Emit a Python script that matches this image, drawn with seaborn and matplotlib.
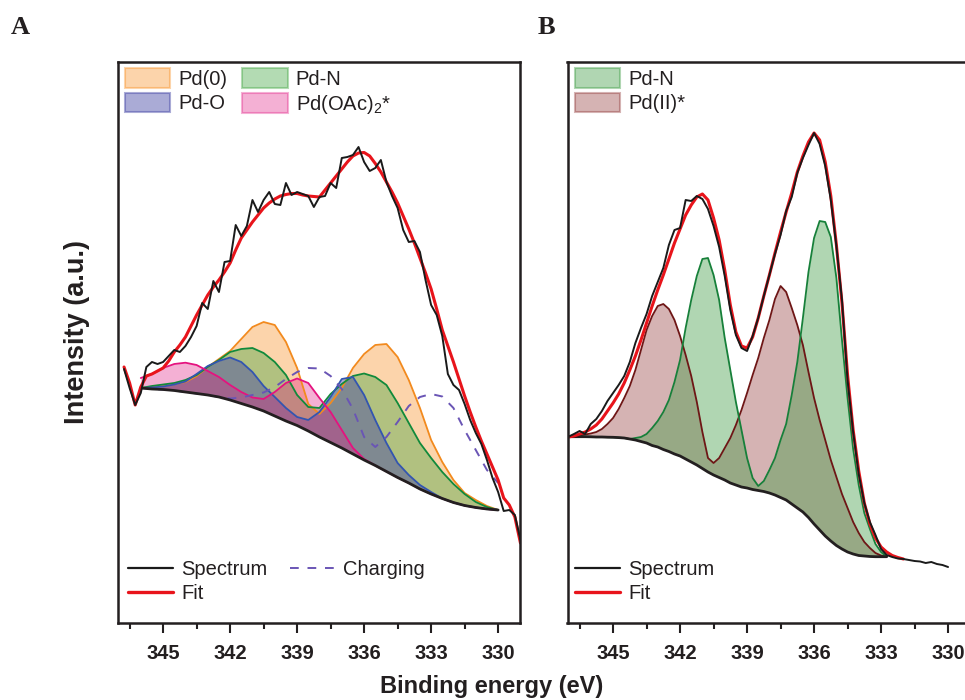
import matplotlib
matplotlib.use('Agg')
import matplotlib.pyplot as plt
from matplotlib.patches import Patch
from matplotlib.lines import Line2D
import seaborn as sns

# ---------------- data (intensity in arbitrary units) ----------------
# panel A: component grid (eV)
e_comp_a = [346.0, 345.5, 345.0, 344.5, 344.0, 343.5, 343.0, 342.5, 342.0, 341.5, 341.0,
            340.5, 340.0, 339.5, 339.0, 338.5, 338.0, 337.5, 337.0, 336.5, 336.0, 335.5,
            335.0, 334.5, 334.0, 333.5, 333.0, 332.5, 332.0, 331.5, 331.0, 330.5, 330.0]
bg_a = [235, 234, 233.5, 232.5, 231, 229.5, 228, 226, 223, 219.5, 216, 212, 207, 202, 197.5,
        192, 186, 180.5, 175, 169, 163, 157.5, 151.5, 145.5, 140, 134, 129, 124.5, 120.5,
        117.5, 115.5, 114, 113]
pd0_a = [235, 236, 237, 239, 241, 247, 256, 264, 272, 284, 296, 301, 298, 281, 255, 219, 209,
         220, 235, 255, 269, 278, 279, 266, 243, 215, 183, 161, 143, 130, 123, 117, 113]
pdn_a = [235, 237, 238.5, 240, 243, 248, 256, 263, 271, 274, 275, 270, 261, 248, 228, 216, 215,
         229, 239, 247, 249.5, 246, 238, 220, 200, 180, 165, 151, 139, 129, 121, 116, 113]
pdo_a = [235, 235.5, 236.5, 238.5, 241.5, 249, 257, 262, 265.5, 261, 251, 237, 226, 215, 206,
         203, 211, 226, 244, 246, 228, 203, 180, 160, 148, 138, 131, 124.5, 120.5, 117.5,
         115.5, 114, 113]
pdoac_a = [245, 249, 255, 259, 260.3, 258, 252, 246, 238, 231, 225.5, 224, 231, 240, 244.5,
           240, 225, 211, 193, 175, 164, 157.5, 151.5, 145.5, 140, 134, 129, 124.5, 120.5,
           117.5, 115.5, 114, 113]
charging_a = [235, 234, 233.5, 232.5, 231, 229.5, 228, 226, 224.5, 225.5, 228, 230.5, 236, 244,
              251, 255, 254.5, 247, 234, 214, 186, 176, 186, 201, 217, 226, 229, 226.5, 215,
              193, 173, 153, 140]

# panel A: spectrum grid (eV)
e_spec_a = [346.75, 346.5, 346.25, 346.0, 345.75, 345.5, 345.25, 345.0, 344.75, 344.5, 344.25,
            344.0, 343.75, 343.5, 343.25, 343.0, 342.75, 342.5, 342.25, 342.0, 341.75, 341.5,
            341.25, 341.0, 340.75, 340.5, 340.25, 340.0, 339.75, 339.5, 339.25, 339.0, 338.75,
            338.5, 338.25, 338.0, 337.75, 337.5, 337.25, 337.0, 336.75, 336.5, 336.25, 336.0,
            335.75, 335.5, 335.25, 335.0, 334.75, 334.5, 334.25, 334.0, 333.75, 333.5, 333.25,
            333.0, 332.75, 332.5, 332.25, 332.0, 331.75, 331.5, 331.25, 331.0, 330.75, 330.5,
            330.25, 330.0, 329.75, 329.5, 329.25, 329.0]
spec_a = [254, 235, 218, 230, 256, 261, 259, 261, 267, 273, 271, 277, 286, 297, 320, 314, 342,
          331, 361, 362, 398, 387, 397, 423, 411, 423, 431, 419, 418, 440, 428, 431, 429, 427,
          416, 426, 427, 440, 435, 465, 466, 468, 476, 461, 452, 455, 463, 441, 427, 415, 393,
          381, 382, 371, 343, 318, 308, 287, 249, 238, 233, 219, 203, 190, 179, 163, 145, 131,
          112, 113, 108, 83]
fit_a = [256, 240, 218, 236, 247, 249, 252, 255, 262, 271, 278, 286, 297, 308, 318, 328, 336,
         343, 351, 360, 373, 385, 393, 401, 408, 415, 420, 424, 427, 428.5, 429.5, 429.5, 428,
         427, 426.5, 426, 433, 440, 447, 454, 461, 467, 470, 470.5, 467, 459.5, 451, 441, 431,
         420, 407, 394, 380, 365, 350, 334, 314, 293, 277, 261, 244, 227, 211, 196, 182, 169,
         156, 143, 125, 118, 106, 80]

# panel B: grid (eV)
e_b = [347.0, 346.75, 346.5, 346.25, 346.0, 345.75, 345.5, 345.25, 345.0, 344.75, 344.5,
       344.25, 344.0, 343.75, 343.5, 343.25, 343.0, 342.75, 342.5, 342.25, 342.0, 341.75,
       341.5, 341.25, 341.0, 340.75, 340.5, 340.25, 340.0, 339.75, 339.5, 339.25, 339.0,
       338.75, 338.5, 338.25, 338.0, 337.75, 337.5, 337.25, 337.0, 336.75, 336.5, 336.25,
       336.0, 335.75, 335.5, 335.25, 335.0, 334.75, 334.5, 334.25, 334.0, 333.75, 333.5,
       333.25, 333.0, 332.75, 332.5, 332.25, 332.0, 331.75, 331.5, 331.25, 331.0, 330.75,
       330.5, 330.25, 330.0]
spec_b = [186.3, 189, 192, 189, 199, 204, 212, 222, 230, 238, 247, 261, 280, 295, 309, 327, 341,
          355, 378, 393, 395, 423, 422, 427, 424, 414, 397, 376, 347, 313, 288, 275, 272, 287,
          305, 327, 348, 369, 388, 412, 426, 450, 465, 478, 490, 479, 457, 423, 377, 323, 243,
          191, 149, 120, 101, 88, 74, 68, 66, 64.5, 64, 63, 62, 61.5, 60, 61, 59, 58, 56]
fit_b = [186, 187, 189, 191, 194, 198, 204, 212, 220, 229, 240, 253, 267, 283, 300, 317, 333,
         348, 364, 380, 394, 408, 418, 426, 429, 423, 405, 383, 353, 318, 291, 277, 275, 286,
         305, 327, 348, 370, 391, 411, 430, 451, 467, 481, 490, 483, 461, 427, 378, 320, 248,
         193, 152, 120, 99, 85, 76, 71, 67.5, 65.5, 64]
bg_b = [186.3, 186.3, 186.3, 186.3, 186.2, 186, 186, 185.8, 185.7, 185.4, 185, 184, 183, 181.5,
        180, 177.5, 176, 173.5, 171.5, 169, 167, 164, 161, 158, 154.5, 151, 148, 145.5, 143,
        140, 138, 136, 135, 133.5, 132.5, 131.5, 130, 128, 125.5, 123, 119, 115, 111, 105.5,
        99, 93, 87, 82, 77.5, 74, 71, 69, 67.5, 67, 66.5, 66.3, 66.3, 66.3]
pdii_b = [186.5, 187, 187.5, 188.5, 189.5, 191, 194, 199, 205, 214, 225, 237, 253, 273, 293,
          307, 317, 319, 314, 303, 287, 268, 247, 221, 191, 165, 160, 165, 175, 185, 198, 213,
          230, 248, 265, 285, 303, 324, 337, 331, 315, 298, 278, 251, 225, 203, 183, 163, 146,
          129, 115, 101, 90, 81, 75, 70, 67.5, 66.3]
pdn_b = [186.3, 186.3, 186.3, 186.3, 186.2, 186, 186, 185.8, 185.7, 185.4, 185, 184, 185, 186,
         189, 195, 202, 211, 223, 241, 263, 295, 323, 347, 364, 365, 348, 323, 285, 253, 221,
         193, 165, 145, 137, 142, 153, 165, 183, 199, 228, 261, 305, 351, 385, 402, 401, 386,
         345, 283, 225, 174, 138, 110, 94, 79, 71, 66.3]

tick_values = [345, 342, 339, 336, 333, 330]
minor_values = [346.5, 343.5, 340.5, 337.5, 334.5, 331.5]
tick_labels = ['345', '342', '339', '336', '333', '330']

# ---------------- style ----------------
sns.set_theme(style='white')
plt.rcParams['font.family'] = ['Liberation Sans', 'DejaVu Sans']
plt.rcParams['mathtext.default'] = 'regular'

W, H = 965, 700
fig = plt.figure(figsize=(W / 100, H / 100), dpi=100)
axA = fig.add_axes([118 / W, 1 - 623 / H, 402 / W, 561 / H])
axB = fig.add_axes([567.5 / W, 1 - 623 / H, 402 / W, 561 / H])


def line(ax, x, y, **kw):
    sns.lineplot(x=x, y=y, ax=ax, estimator=None, sort=False, legend=False, **kw)


# ---------------- panel A ----------------
comps_a = [
    ('Pd(0)', pd0_a, '#f88510', '#f28a1e', 0.35),
    ('Pd-N', pdn_a, '#41a541', '#118a3b', 0.40),
    ('Pd-O', pdo_a, '#4446a6', '#3355b0', 0.45),
    (r'Pd(OAc)$_2$*', pdoac_a, '#e21d84', '#e5127f', 0.35),
]
for name, vals, fc, ec, a in comps_a:
    axA.fill_between(e_comp_a, bg_a, vals, color=fc, alpha=a, lw=0)
for name, vals, fc, ec, a in comps_a:
    line(axA, e_comp_a, vals, color=ec, lw=1.3)
line(axA, e_comp_a, charging_a, color='#6a55b5', lw=1.4, linestyle=(0, (4.5, 4.5)))
line(axA, e_comp_a, bg_a, color='#231f20', lw=2.0)
line(axA, e_spec_a, fit_a, color='#e8141b', lw=2.2)
line(axA, e_spec_a, spec_a, color='#1a1a1a', lw=1.4)

# ---------------- panel B ----------------
e_bg_b = e_b[:len(bg_b)]
axB.fill_between(e_bg_b, bg_b, pdii_b, color='#872626', alpha=0.35, lw=0)
axB.fill_between(e_bg_b, bg_b, pdn_b, color='#3a9a40', alpha=0.40, lw=0)
line(axB, e_bg_b, pdii_b, color='#6e1616', lw=1.3)
line(axB, e_bg_b, pdn_b, color='#17803a', lw=1.3)
line(axB, e_bg_b, bg_b, color='#231f20', lw=2.0)
line(axB, e_b[:len(fit_b)], fit_b, color='#e8141b', lw=2.2)
line(axB, e_b, spec_b, color='#1a1a1a', lw=1.4)

# ---------------- axes styling ----------------
for ax, lo in ((axA, 347.02), (axB, 347.04)):
    ax.set_xlim(lo, lo - 18.0)
    ax.set_ylim(0, 561)
    ax.set_yticks([])
    ax.set_xticks(tick_values)
    ax.set_xticks(minor_values, minor=True)
    ax.set_xticklabels(tick_labels, fontweight='bold', fontsize=14.5)
    ax.tick_params(axis='x', which='major', direction='out', length=7, width=1.5,
                   color='#231f20', pad=8, labelcolor='#231f20', bottom=True)
    ax.tick_params(axis='x', which='minor', direction='out', length=4, width=1.5,
                   color='#231f20', bottom=True)
    ax.set_xlabel('')
    ax.set_ylabel('')
    for sp in ax.spines.values():
        sp.set_linewidth(1.8)
        sp.set_color('#231f20')
        sp.set_visible(True)

leg_kw = dict(frameon=False, fontsize=14.5, borderpad=0, borderaxespad=0,
              handletextpad=0.4, labelcolor='#231f20')

# panel A legends
pa = [Patch(facecolor=fc, edgecolor=fc, alpha=a, lw=1.5, label=n) for n, v, fc, ec, a in comps_a]
top_a = axA.legend(handles=[pa[0], pa[2], pa[1], pa[3]], ncol=2, loc='upper left',
                   bbox_to_anchor=(0.017, 0.989), handlelength=2.25, handleheight=1.1,
                   labelspacing=0.2, columnspacing=0.75, **leg_kw)
axA.add_artist(top_a)
la = [Line2D([], [], color='#1a1a1a', lw=1.6, label='Spectrum'),
      Line2D([], [], color='#e8141b', lw=2.4, label='Fit'),
      Line2D([], [], color='#6a55b5', lw=1.4, linestyle=(0, (4.5, 4.5)), label='Charging')]
axA.legend(handles=la, ncol=2, loc='upper left', bbox_to_anchor=(0.025, 0.113),
           handlelength=2.25, labelspacing=0.25, columnspacing=1.1, **leg_kw)

# panel B legends
pb = [Patch(facecolor='#3a9a40', edgecolor='#3a9a40', alpha=0.4, lw=1.5, label='Pd-N'),
      Patch(facecolor='#872626', edgecolor='#872626', alpha=0.35, lw=1.5, label='Pd(II)*')]
top_b = axB.legend(handles=pb, loc='upper left', bbox_to_anchor=(0.019, 0.989),
                   handlelength=2.25, handleheight=1.1, labelspacing=0.2, **leg_kw)
axB.add_artist(top_b)
axB.legend(handles=la[:2], loc='upper left', bbox_to_anchor=(0.019, 0.113),
           handlelength=2.25, labelspacing=0.25, **leg_kw)

# ---------------- figure labels ----------------
fig.text(77 / W, 1 - 332 / H, 'Intensity (a.u.)', rotation=90, ha='center', va='center',
         fontsize=19.5, fontweight='bold', color='#231f20')
fig.text(492 / W, 1 - 686 / H, 'Binding energy (eV)', ha='center', va='center',
         fontsize=17, fontweight='bold', color='#231f20')
fig.text(20 / W, 1 - 28 / H, 'A', ha='center', va='center', fontsize=19, fontweight='bold',
         fontfamily=['Liberation Serif', 'DejaVu Serif'], color='#231f20')
fig.text(546 / W, 1 - 28 / H, 'B', ha='center', va='center', fontsize=19, fontweight='bold',
         fontfamily=['Liberation Serif', 'DejaVu Serif'], color='#231f20')

fig.savefig('out.png', dpi=100)
